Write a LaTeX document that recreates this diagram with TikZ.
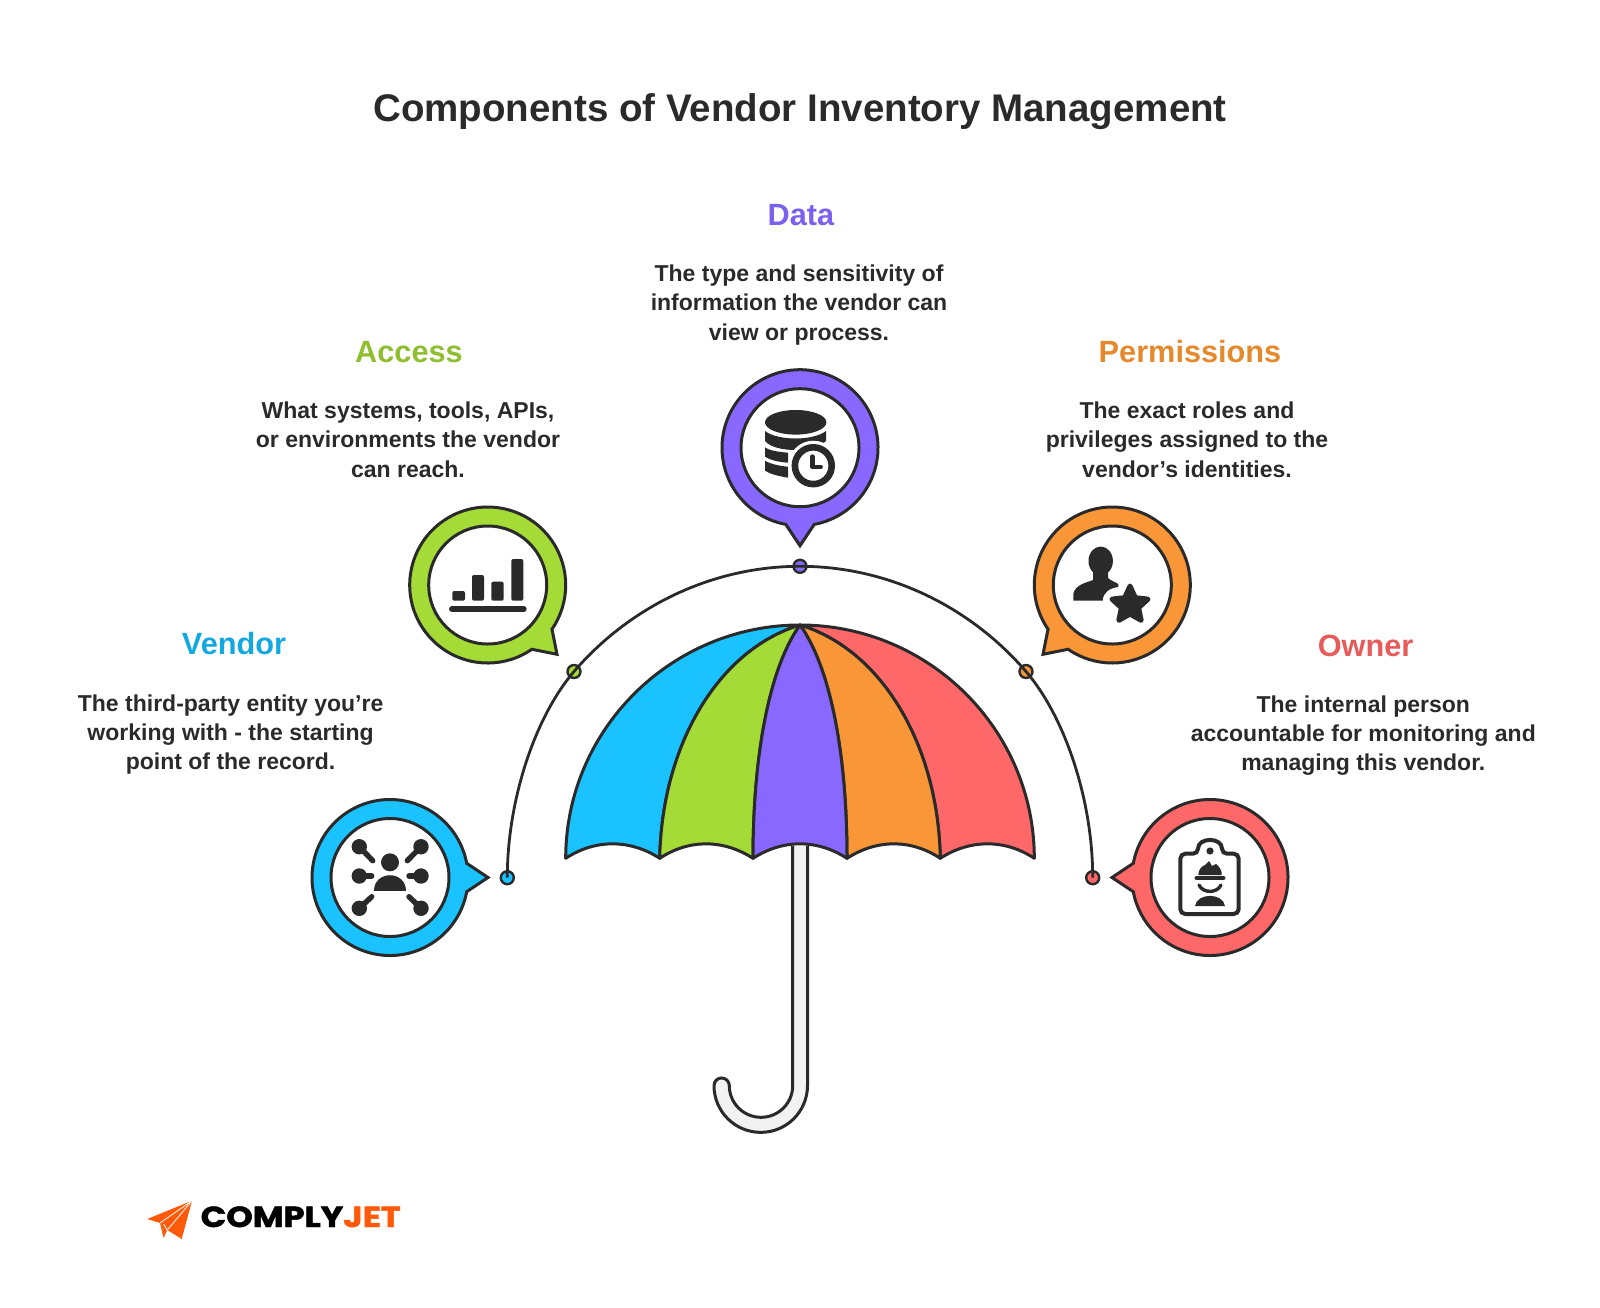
\documentclass[tikz,border=0pt]{standalone}
\usepackage{fontspec}
\setmainfont{Liberation Sans}
\newfontfamily\logofont{Poppins}[BoldFeatures={FakeBold=1.5}]
\usetikzlibrary{calc,shapes.geometric}

\definecolor{inkdark}{HTML}{2A2A2A}
\definecolor{fillblue}{HTML}{1AC3FF}
\definecolor{fillgreen}{HTML}{A5DB37}
\definecolor{fillpurple}{HTML}{8868FF}
\definecolor{fillorange}{HTML}{F99638}
\definecolor{fillred}{HTML}{FF6868}
\definecolor{headblue}{HTML}{14A8E0}
\definecolor{headgreen}{HTML}{8FBF30}
\definecolor{headpurple}{HTML}{7B61EE}
\definecolor{headorange}{HTML}{E58A2C}
\definecolor{headred}{HTML}{E85B5B}
\definecolor{logoorange}{HTML}{FF5A0A}

\tikzset{
    outline/.style={draw=inkdark, line width=3},
    panel/.style={outline, line join=round},
    icon/.style={fill=inkdark},
    iconline/.style={draw=inkdark, line cap=round, line join=round},
    dotmark/.style={circle, draw=inkdark, line width=2.4, minimum size=13, inner sep=0},
    headlabel/.style={font=\bfseries\fontsize{30.7}{34}\selectfont},
    bodytext/.style={font=\bfseries\fontsize{23}{29.3}\selectfont, text=inkdark, align=center},
}

\begin{document}
\begin{tikzpicture}[x=1pt, y=-1pt]
    \useasboundingbox (0,0) rectangle (1600,1307);

    % Title
    \node[font=\bfseries\fontsize{38.5}{42}\selectfont, text=inkdark] (title) at (800,112) {Components of Vendor Inventory Management};

    % Labels
    \node[headlabel, text=headblue] (vendorhead) at (234,644) {Vendor};
    \node[bodytext] (vendortext) at (230.6,734.5) {The third-party entity you’re\\working with - the starting\\point of the record.};
    \node[headlabel, text=headgreen] (accesshead) at (409,352) {Access};
    \node[bodytext] (accesstext) at (408,439.5) {What systems, tools, APIs,\\or environments the vendor\\can reach.};
    \node[headlabel, text=headpurple] (datahead) at (801,215) {Data};
    \node[bodytext] (datatext) at (799,305) {The type and sensitivity of\\information the vendor can\\view or process.};
    \node[headlabel, text=headorange] (permhead) at (1190,352) {Permissions};
    \node[bodytext] (permtext) at (1187,439.5) {The exact roles and\\privileges assigned to the\\vendor’s identities.};
    \node[headlabel, text=headred] (ownerhead) at (1365.5,646) {Owner};
    \node[bodytext] (ownertext) at (1363.3,735.5) {The internal person\\accountable for monitoring and\\managing this vendor.};

    % Bubbles
    \foreach \cname/\cx/\cy/\cang/\ccol in {vendor/390/877.5/0/fillblue, access/487.7/585/45/fillgreen, data/800/447.7/90/fillpurple, perm/1112.3/585/135/fillorange, owner/1210/877.5/180/fillred} {
        \coordinate (\cname) at (\cx,\cy);
        \draw[outline, fill=\ccol] (\cname) ++(\cang+10.5:78) arc[start angle=\cang+10.5, delta angle=339, radius=78] -- ($(\cname)+(\cang:98)$) -- cycle;
        \draw[outline, fill=white] (\cname) circle (59);
    }

    % Arc
    \node[dotmark, fill=fillblue] (vendordot) at (507.3,877.7) {};
    \node[dotmark, fill=fillgreen] (accessdot) at (574,671.5) {};
    \node[dotmark, fill=fillpurple] (datadot) at (800,566.3) {};
    \node[dotmark, fill=fillorange] (permdot) at (1026,671.5) {};
    \node[dotmark, fill=fillred] (ownerdot) at (1092.7,877.7) {};
    \draw[draw=inkdark, line width=2.8] (vendordot.center) .. controls (507.3,800) and (535,717) .. (accessdot.center)
        .. controls (630.8,605.6) and (713,566.3) .. (datadot.center)
        .. controls (887,566.3) and (969.2,605.6) .. (permdot.center)
        .. controls (1065,717) and (1092.7,800) .. (ownerdot.center);

    % Handle
    \draw[outline, fill=black!5] (792.7,846) -- (792.7,1085.6) arc[start angle=0, end angle=180, radius=31.7]
        arc[start angle=0, end angle=-180, radius=7.65]
        arc[start angle=180, end angle=0, radius=46.75] -- (807.5,846);

    % Canopy
    \coordinate (apex) at (800,625);
    \coordinate (rimA) at (565.7,858.3);
    \coordinate (rimB) at (659.7,858.3);
    \coordinate (rimC) at (753,858.3);
    \coordinate (rimD) at (847,858.3);
    \coordinate (rimE) at (940.3,858.3);
    \coordinate (rimF) at (1034.3,858.3);
    \draw[panel, fill=fillblue] (rimA) .. controls (565.7,729.6) and (671.3,625) .. (apex)
        .. controls (718,650) and (662,745) .. (rimB) .. controls (630,839) and (595,839) .. (rimA) -- cycle;
    \draw[panel, fill=fillred] (rimF) .. controls (1034.3,729.6) and (928.7,625) .. (apex)
        .. controls (882,650) and (938,745) .. (rimE) .. controls (970,839) and (1005,839) .. (rimF) -- cycle;
    \draw[panel, fill=fillgreen] (rimB) .. controls (662,745) and (718,650) .. (apex)
        .. controls (768,670) and (753,760) .. (rimC) .. controls (723,839) and (689,839) .. (rimB) -- cycle;
    \draw[panel, fill=fillorange] (rimE) .. controls (938,745) and (882,650) .. (apex)
        .. controls (832,670) and (847,760) .. (rimD) .. controls (877,839) and (911,839) .. (rimE) -- cycle;
    \draw[panel, fill=fillpurple] (rimC) .. controls (753,760) and (768,670) .. (apex)
        .. controls (832,670) and (847,760) .. (rimD) .. controls (817,839) and (783,839) .. (rimC) -- cycle;

    % Vendor icon
    \fill[icon] (390,862.3) circle (9);
    \fill[icon] (374,890.7) .. controls (374,870) and (406,870) .. (406,890.7) -- cycle;
    \foreach \ax/\ay/\bx/\by in {359.3/846.7/372.7/860.7, 421/846.7/407.3/860.7, 359.3/876/371.7/876, 421/876/409/876, 359.3/908.3/371.7/896.7, 421/908.3/409/896.7} {
        \fill[icon] (\ax,\ay) circle (7.7);
        \draw[iconline, line width=5.4] (\ax,\ay) -- (\bx,\by);
    }

    % Access icon
    \fill[icon, rounded corners=2] (452.3,600.7) rectangle (465,591);
    \fill[icon, rounded corners=2] (472,600.7) rectangle (484,575);
    \fill[icon, rounded corners=2] (491.3,600.7) rectangle (503.7,581.7);
    \fill[icon, rounded corners=2] (511.3,600.7) rectangle (523.3,559);
    \draw[iconline, line width=6] (452,609) -- (523.7,609);

    % Data icon
    \fill[icon] (795.7,422.3) ellipse (30.7 and 12.3);
    \fill[icon] (765,431) .. controls (778,441) and (813,441) .. (826,431) -- (826,441) .. controls (818,448) and (805,450) .. (795.7,450) .. controls (782,450) and (770,447) .. (765,441) -- cycle;
    \fill[icon] (765,447.3) .. controls (770,451) and (780,452) .. (788,452.7) -- (788,462.7) .. controls (778,462) and (770,460) .. (765,456.7) -- cycle;
    \fill[icon] (765,460.7) .. controls (770,464) and (780,466) .. (788,466.7) -- (788,477.7) .. controls (778,476) and (770,474) .. (765,470.7) -- cycle;
    \fill[white] (813.3,465.7) circle (25);
    \draw[inkdark, line width=6.6, fill=white] (813.3,465.7) circle (18.4);
    \draw[iconline, line width=4.4] (812.3,456.5) -- (812.3,466.7) -- (820.7,466.7);

    % Permissions icon
    \fill[icon] (1100.7,561) ellipse (12.2 and 14.5);
    \fill[icon] (1073.3,600.7) -- (1073.3,594) .. controls (1075,585) and (1085,583) .. (1093,580) -- (1093,568) -- (1108,568) -- (1108,578) .. controls (1110,580) and (1115,582) .. (1118.3,584) -- (1118.3,587) .. controls (1110,588) and (1103,592) .. (1102.7,600.7) -- cycle;
    \node[star, star points=5, star point ratio=2.1, fill=inkdark, draw=inkdark, line width=5, line join=round, minimum size=38, inner sep=0] (permstar) at (1130,605) {};

    % Owner icon
    \draw[draw=inkdark, line width=4, fill=white, rounded corners=5] (1198,853.7) .. controls (1198,837) and (1222,837) .. (1222,853.7) -- (1238.7,853.7) -- (1238.7,914) -- (1180.3,914) -- (1180.3,853.7) -- cycle;
    \fill[icon] (1210,851) circle (3.6);
    \fill[icon] (1198.3,875) .. controls (1198.5,869) and (1202,866) .. (1205,865) -- (1209,861) -- (1212,866) -- (1216,864) .. controls (1220,867) and (1222,871) .. (1221.7,875) -- cycle;
    \draw[iconline, line width=4] (1196.5,878) -- (1223.5,878);
    \draw[iconline, line width=3.4] (1199,885) .. controls (1203,893.5) and (1217,893.5) .. (1221,885);
    \fill[icon] (1195,906) .. controls (1197,892.5) and (1223,892.5) .. (1225,906) -- cycle;

    % Logo
    \fill[logoorange] (147.3,1219) -- (192,1200.7) -- (181.7,1239) -- (167.3,1230) -- (163.5,1238) -- (160,1223) -- cycle;
    \draw[white, line width=0.8] (160,1223) -- (192,1200.7) -- (167.3,1230) -- (163.5,1224);
    \node[font=\logofont\bfseries\fontsize{29}{32}\selectfont, anchor=base west, inner sep=0] (logotext) at (200.5,1227) {\scalebox{1.16}[1]{COMPLY\textcolor{logoorange}{JET}}};
\end{tikzpicture}
\end{document}
